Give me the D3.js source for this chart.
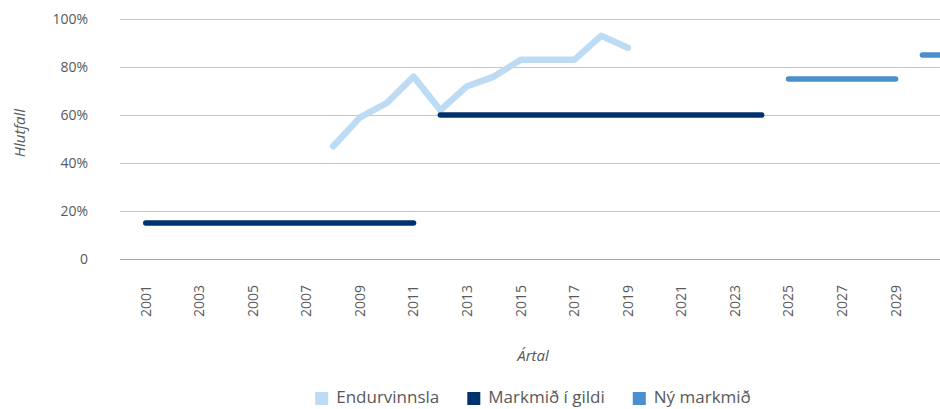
<!DOCTYPE html>
<html>
<head>
<meta charset="utf-8">
<script src="https://cdn.jsdelivr.net/npm/d3@7"></script>
<style>
  html, body { margin: 0; padding: 0; background: #fff; overflow: hidden; }
  svg { display: block; font-family: "Open Sans", sans-serif; }
</style>
</head>
<body>
<svg id="chart" width="940" height="409"></svg>
<script>
// ---- data ----
const years = [2001, 2002, 2003, 2004, 2005, 2006, 2007, 2008, 2009, 2010,
               2011, 2012, 2013, 2014, 2015, 2016, 2017, 2018, 2019, 2020,
               2021, 2022, 2023, 2024, 2025, 2026, 2027, 2028, 2029, 2030, 2031];
// Endurvinnsla (%), null where no value
const endurvinnsla = [null, null, null, null, null, null, null, 47, 59, 65,
                      76, 62, 72, 76, 83, 83, 83, 93, 88, null,
                      null, null, null, null, null, null, null, null, null, null, null];
// Markmið í gildi: periods and target value (%)
const markmidPeriods = [[2001, 2011], [2012, 2024]];
const markmidValues = [15, 60];
// Ný markmið: periods and target value (%)
const nyPeriods = [[2025, 2029], [2030, 2031]];
const nyValues = [75, 85];
const tickYears = [2001, 2003, 2005, 2007, 2009, 2011, 2013, 2015, 2017, 2019, 2021, 2023, 2025, 2027, 2029];
const yTicks = [0, 20, 40, 60, 80, 100];
const seriesNames = ["Endurvinnsla", "Markmið í gildi", "Ný markmið"];
const colors = ["#BDDBF3", "#00336E", "#4A8FCE"];

// ---- layout ----
const svg = d3.select("#chart");
const plotLeft = 120;
const x = d3.scaleLinear().domain([2000, 2031]).range([119, 119 + 31 * 26.78]);
const y = d3.scaleLinear().domain([0, 100]).range([259, 19]);
const textColor = "#595959";

// gridlines
svg.append("g").selectAll("line").data(yTicks).join("line")
  .attr("x1", plotLeft).attr("x2", 940)
  .attr("y1", d => y(d) + 0.5).attr("y2", d => y(d) + 0.5)
  .attr("stroke", d => d === 0 ? "#a6a6a6" : "#c6c6c6")
  .attr("stroke-width", 1);

// y tick labels
svg.append("g").selectAll("text").data(yTicks).join("text")
  .attr("x", 88).attr("y", d => y(d)).attr("dy", "0.35em")
  .attr("text-anchor", "end")
  .attr("font-size", 14).attr("fill", textColor)
  .text(d => d === 0 ? "0" : d + "%");

// x tick labels (rotated)
svg.append("g").selectAll("text").data(tickYears).join("text")
  .attr("transform", d => `translate(${x(d)},285) rotate(-90)`)
  .attr("dy", "0.35em")
  .attr("text-anchor", "end")
  .attr("font-size", 14).attr("fill", textColor)
  .text(d => d);

// axis titles
svg.append("text")
  .attr("transform", "translate(20,133) rotate(-90)")
  .attr("dy", "0.35em")
  .attr("text-anchor", "middle")
  .attr("font-size", 15).attr("font-style", "italic").attr("fill", textColor)
  .text("Hlutfall");
svg.append("text")
  .attr("x", 533).attr("y", 361)
  .attr("text-anchor", "middle")
  .attr("font-size", 15).attr("font-style", "italic").attr("fill", textColor)
  .text("Ártal");

// lines
const line = d3.line()
  .defined(d => d.v != null)
  .x(d => x(d.year)).y(d => y(d.v));

const endData = years.map((yr, i) => ({ year: yr, v: endurvinnsla[i] }));
svg.append("path").datum(endData)
  .attr("d", line)
  .attr("fill", "none").attr("stroke", colors[0])
  .attr("stroke-width", 6.5).attr("stroke-linecap", "round").attr("stroke-linejoin", "round");

function periodLines(periods, values, color) {
  periods.forEach((p, i) => {
    const data = years.filter(yr => yr >= p[0] && yr <= p[1]).map(yr => ({ year: yr, v: values[i] }));
    svg.append("path").datum(data)
      .attr("d", line)
      .attr("fill", "none").attr("stroke", color)
      .attr("stroke-width", 5.5).attr("stroke-linecap", "round");
  });
}
periodLines(markmidPeriods, markmidValues, colors[1]);
periodLines(nyPeriods, nyValues, colors[2]);

// legend
const legend = svg.append("g");
const items = legend.selectAll("g").data(seriesNames).join("g");
items.append("rect").attr("width", 13).attr("height", 13).attr("y", 392)
  .attr("fill", (d, i) => colors[i]);
items.append("text").attr("x", 21).attr("y", 403)
  .attr("font-size", 17).attr("fill", textColor).text(d => d);
let widths = [];
items.each(function () { widths.push(d3.select(this).select("text").node().getComputedTextLength() + 21); });
const gap = 28;
const total = d3.sum(widths) + gap * (widths.length - 1);
let cx = 533 - total / 2;
items.attr("transform", (d, i) => { const t = `translate(${cx},0)`; cx += widths[i] + gap; return t; });
</script>
</body>
</html>
